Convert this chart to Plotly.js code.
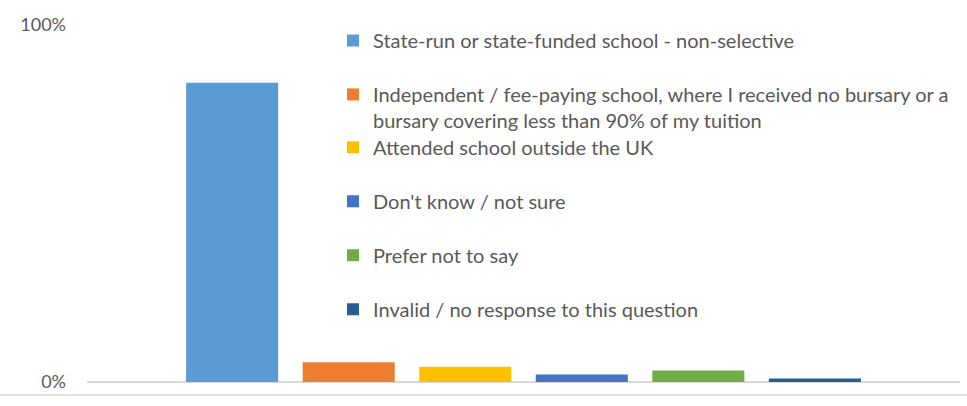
<!DOCTYPE html>
<html>
<head>
<meta charset="utf-8">
<script src="https://cdn.plot.ly/plotly-3.0.1.min.js"></script>
<style>html,body{margin:0;padding:0;background:#fff;}#chart{width:967px;height:406px;}</style>
</head>
<body>
<div id="chart"></div>
<script>
// ---- data ----
const category = ['School type'];
const seriesNames = [
  'State-run or state-funded school - non-selective',
  'Independent / fee-paying school, where I received no bursary or a<br>bursary covering less than 90% of my tuition',
  'Attended school outside the UK',
  "Don't know / not sure",
  'Prefer not to say',
  'Invalid / no response to this question'
];
const seriesValues = [0.838, 0.055, 0.043, 0.021, 0.032, 0.010];
const yTickVals = [0, 1];
const yTickText = ['0%', '100%'];

// ---- styles ----
const colors = ['#5B9BD5', '#ED7D31', '#FFC000', '#4472C4', '#70AD47', '#255E91'];
const legendCentersPx = [41, 95, 148, 202, 256, 310];
const FONT = 'Lato, "Open Sans", sans-serif';
const TXT = '#595959';

const mL = 87, mR = 7, mT = 25, mB = 406 - 382.5;
const plotH = 406 - mT - mB, plotW = 967 - mL - mR;
const pyPaper = p => (406 - mB - p) / plotH;
const pxPaper = p => (p - mL) / plotW;

const traces = seriesNames.map((name, i) => ({
  type: 'bar',
  x: category,
  y: [seriesValues[i]],
  name: name,
  marker: {color: colors[i]},
  legend: i === 0 ? 'legend' : 'legend' + (i + 1),
  hoverinfo: 'skip'
}));

const layout = {
  width: 967, height: 406,
  margin: {l: mL, r: mR, t: mT, b: mB, pad: 0},
  paper_bgcolor: '#ffffff', plot_bgcolor: '#ffffff',
  barmode: 'group', bargap: 0.199, bargroupgap: 0.21,
  font: {family: FONT, color: TXT, size: 18},
  xaxis: {
    range: [-0.5, 0.5], showticklabels: false, ticks: '', showgrid: false,
    zeroline: false, showline: false, fixedrange: true
  },
  yaxis: {
    range: [0, 1], tickvals: yTickVals, ticktext: yTickText,
    showgrid: true, gridcolor: '#d9d9d9', gridwidth: 1,
    zeroline: true, zerolinecolor: '#d9d9d9', zerolinewidth: 2,
    showline: false, ticks: '', ticklabelstandoff: 20,
    tickfont: {family: FONT, size: 18, color: TXT}, fixedrange: true
  },
  shapes: [{
    type: 'line', xref: 'paper', yref: 'paper',
    x0: pxPaper(0), x1: pxPaper(967), y0: pyPaper(395.5), y1: pyPaper(395.5),
    line: {color: '#d9d9d9', width: 1.5}
  }],
  showlegend: true
};

seriesNames.forEach((n, i) => {
  const key = i === 0 ? 'legend' : 'legend' + (i + 1);
  layout[key] = {
    x: pxPaper(333), xanchor: 'left',
    y: pyPaper(legendCentersPx[i] - 20), yanchor: 'top',
    valign: 'top',
    bgcolor: 'rgba(0,0,0,0)', borderwidth: 0,
    font: {family: FONT, size: 20, color: TXT},
    itemclick: false, itemdoubleclick: false
  };
});

Plotly.newPlot('chart', traces, layout, {displayModeBar: false, staticPlot: true});
</script>
</body>
</html>
